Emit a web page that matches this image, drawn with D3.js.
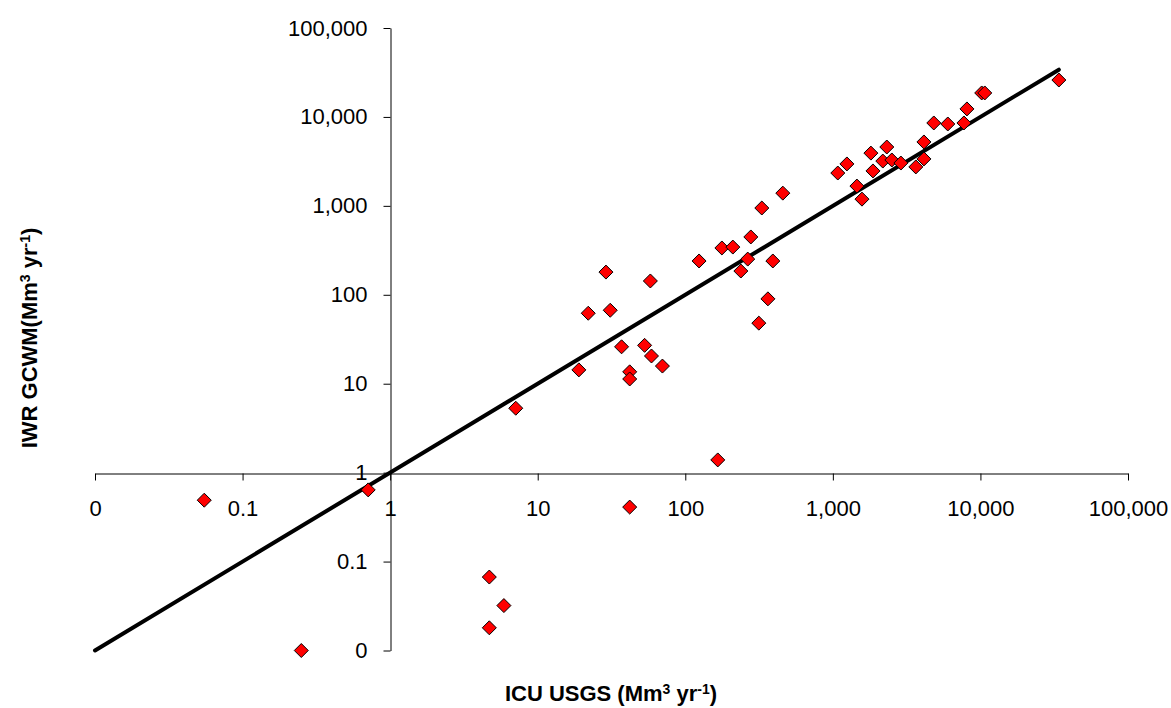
<!DOCTYPE html>
<html>
<head>
<meta charset="utf-8">
<script src="https://cdn.jsdelivr.net/npm/d3@7/dist/d3.min.js"></script>
<style>
  body { margin: 0; background: #fff; }
  svg text { font-family: "Liberation Sans", Arial, sans-serif; }
</style>
</head>
<body>
<svg id="chart" width="1171" height="708"></svg>
<script>
// ICU from USGS (x) vs IWR from GCWM (y), Mm3 per year
var icuUsgs = [0.055, 0.71, 0.25, 4.7, 5.9, 4.7, 7.1, 19, 22, 29, 31, 37, 42, 42, 42,
    53, 59, 58, 70, 124, 166, 177, 210, 278, 330, 458, 265, 238, 392, 363, 315,
    1080, 1245, 1870, 1455, 1575, 1810, 2320, 2180, 2510, 2890, 3650, 4140, 4140,
    4830, 6010, 7730, 8100, 10200, 10700, 34000];
var iwrGcwm = [0.49, 0.64, 0.01, 0.067, 0.032, 0.018, 5.3, 14.3, 62, 180, 67, 26, 13.6, 11.3, 0.41,
    27, 20.5, 143, 15.8, 240, 1.39, 336, 344, 447, 946, 1390, 252, 185, 240, 90, 48,
    2340, 2960, 2470, 1670, 1190, 3920, 4590, 3190, 3280, 3030, 2740, 3370, 5230,
    8550, 8330, 8550, 12300, 18600, 18600, 26000];

var tickValues = [0.01, 0.1, 1, 10, 100, 1000, 10000, 100000];
var tickLabels = ["0", "0.1", "1", "10", "100", "1,000", "10,000", "100,000"];

var svg = d3.select("#chart");

var x = d3.scaleLog().domain([0.01, 100000]).range([95, 1128]);
var y = d3.scaleLog().domain([0.01, 100000]).range([650.5, 28]);

function fmt(d) { return tickLabels[tickValues.indexOf(d)]; }

// axes cross at (1, 1)
var xAxis = d3.axisBottom(x)
    .tickValues(tickValues)
    .tickFormat(fmt)
    .tickSizeInner(7)
    .tickSizeOuter(0)
    .tickPadding(20);

var yAxis = d3.axisLeft(y)
    .tickValues(tickValues)
    .tickFormat(fmt)
    .tickSizeInner(7)
    .tickSizeOuter(0)
    .tickPadding(16);

var gx = svg.append("g")
    .attr("transform", "translate(0," + Math.round(y(1)) + ".5)")
    .call(xAxis);

var gy = svg.append("g")
    .attr("transform", "translate(" + Math.round(x(1)) + ".5,0)")
    .call(yAxis);

[gx, gy].forEach(function(g){
    g.selectAll("path, line").attr("stroke", "#000").attr("stroke-width", 1);
    g.selectAll("text").attr("font-size", 22).attr("fill", "#000")
        .style("font-family", "'Liberation Sans', Arial, sans-serif");
});

// 1:1 line up to the largest ICU value
var maxX = d3.max(icuUsgs);
svg.append("line")
    .attr("x1", x(0.01)).attr("y1", y(0.01))
    .attr("x2", x(maxX)).attr("y2", y(maxX))
    .attr("stroke", "#000")
    .attr("stroke-width", 4)
    .attr("stroke-linecap", "round");

// points
var pts = icuUsgs.map(function(v, i){ return {x: v, y: iwrGcwm[i]}; });
var diamond = "M0,-7L7,0L0,7L-7,0Z";
svg.append("g")
    .selectAll("path")
    .data(pts)
    .enter().append("path")
    .attr("d", diamond)
    .attr("transform", function(d){ return "translate(" + x(d.x) + "," + y(d.y) + ")"; })
    .attr("fill", "#ff0000")
    .attr("stroke", "#000")
    .attr("stroke-width", 1);

// axis titles
var xt = svg.append("text")
    .attr("x", 611).attr("y", 701)
    .attr("text-anchor", "middle")
    .attr("font-size", 22)
    .attr("font-weight", "bold");
xt.append("tspan").text("ICU USGS (Mm");
xt.append("tspan").attr("dy", -7).attr("font-size", 14).text("3");
xt.append("tspan").attr("dy", 7).text(" yr");
xt.append("tspan").attr("dy", -7).attr("font-size", 14).text("-1");
xt.append("tspan").attr("dy", 7).text(")");

var yt = svg.append("text")
    .attr("transform", "translate(37,338) rotate(-90)")
    .attr("text-anchor", "middle")
    .attr("font-size", 22)
    .attr("font-weight", "bold");
yt.append("tspan").text("IWR GCWM(Mm");
yt.append("tspan").attr("dy", -7).attr("font-size", 14).text("3");
yt.append("tspan").attr("dy", 7).text(" yr");
yt.append("tspan").attr("dy", -7).attr("font-size", 14).text("-1");
yt.append("tspan").attr("dy", 7).text(")");
</script>
</body>
</html>
